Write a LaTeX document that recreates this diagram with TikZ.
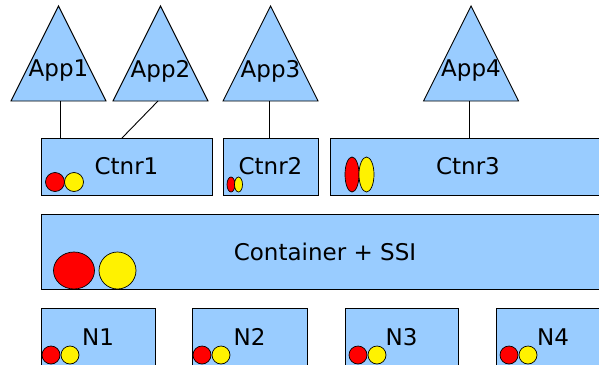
\documentclass[tikz,border=0pt]{standalone}
\usepackage{fontspec}
\setmainfont{DejaVu Sans}
\usepackage{tikz}
\usetikzlibrary{calc}
\usepackage{xcolor}
\definecolor{box-blue}{HTML}{99CCFF}
\colorlet{dot-red}{red}
\colorlet{dot-yellow}{yellow}

% triangle with its label: name, apex x, text
\newcommand{\apptri}[3]{%
    \draw[tri] (#2-47.5, 101) -- (#2, 6) -- (#2+47.5, 101) -- cycle;
    \coordinate (#1-base) at (#2, 101);
    \node[lbl] (#1) at (#2, 71) {#3};
}

\begin{document}
\begin{tikzpicture}[x=1pt, y=-1pt,
    tri/.style={fill=box-blue, draw=black, line width=0.9pt},
    box/.style={rectangle, fill=box-blue, draw=black, line width=0.9pt, inner sep=0, outer sep=0,
        font=\fontsize{23}{27}\selectfont},
    lbl/.style={inner sep=0, font=\fontsize{23}{27}\selectfont},
    link/.style={draw=black, line width=0.9pt},
    reddot/.style={fill=dot-red, draw=black, line width=0.7pt},
    yellowdot/.style={fill=dot-yellow, draw=black, line width=0.7pt}]
    \useasboundingbox (0, 0) rectangle (599, 364);
    \clip (0, 0) rectangle (599, 364);

    \apptri{app1}{58.5}{App1}
    \apptri{app2}{160.5}{App2}
    \apptri{app3}{270.5}{App3}
    \apptri{app4}{471}{App4}

    \node[box, minimum width=171, minimum height=57] (ctnr1) at (126.5, 166.5) {Ctnr1};
    \node[box, minimum width=95, minimum height=57] (ctnr2) at (270.5, 166.5) {Ctnr2};
    \node[box, minimum width=276, minimum height=57] (ctnr3) at (468, 166.5) {Ctnr3};

    \node[box, minimum width=568, minimum height=75] (ssi) at (325, 251.5) {Container + SSI};

    \node[box, minimum width=114, minimum height=58] (n1) at (98, 337) {N1};
    \node[box, minimum width=115, minimum height=58] (n2) at (249.5, 337) {N2};
    \node[box, minimum width=113, minimum height=58] (n3) at (401.5, 337) {N3};
    \node[box, minimum width=114, minimum height=58] (n4) at (553, 337) {N4};

    \draw[link] ($(app1-base)+(1.5,0)$) -- ($(ctnr1.north west)+(19,0)$);
    \draw[link] ($(app2-base)+(-2.5,0)$) -- ($(ctnr1.north)+(-4.5,0)$);
    \draw[link] ($(app3-base)+(-1.5,0)$) -- ($(ctnr2.north)+(-1.5,0)$);
    \draw[link] ($(app4-base)+(-2,0)$) -- ($(app4-base |- ctnr3.north)+(-2,0)$);

    % the coloured dots
    \draw[reddot] (55, 182) circle[radius=9.5];
    \draw[yellowdot] (74, 182) circle[radius=9.5];
    \draw[reddot] (231, 184.5) ellipse[x radius=4, y radius=7.5];
    \draw[yellowdot] (238.5, 184.5) ellipse[x radius=4, y radius=7.5];
    \draw[reddot] (352, 174.5) ellipse[x radius=7, y radius=17.5];
    \draw[yellowdot] (366.5, 174.5) ellipse[x radius=7.5, y radius=17.5];
    \draw[reddot] (74, 270.5) ellipse[x radius=20.5, y radius=18.5];
    \draw[yellowdot] (117.5, 270.5) circle[radius=18.5];
    \foreach \nx in {51, 202, 358, 509} {
        \draw[reddot] (\nx, 355) circle[radius=9];
        \draw[yellowdot] (\nx+19, 355) circle[radius=9];
    }
\end{tikzpicture}
\end{document}
